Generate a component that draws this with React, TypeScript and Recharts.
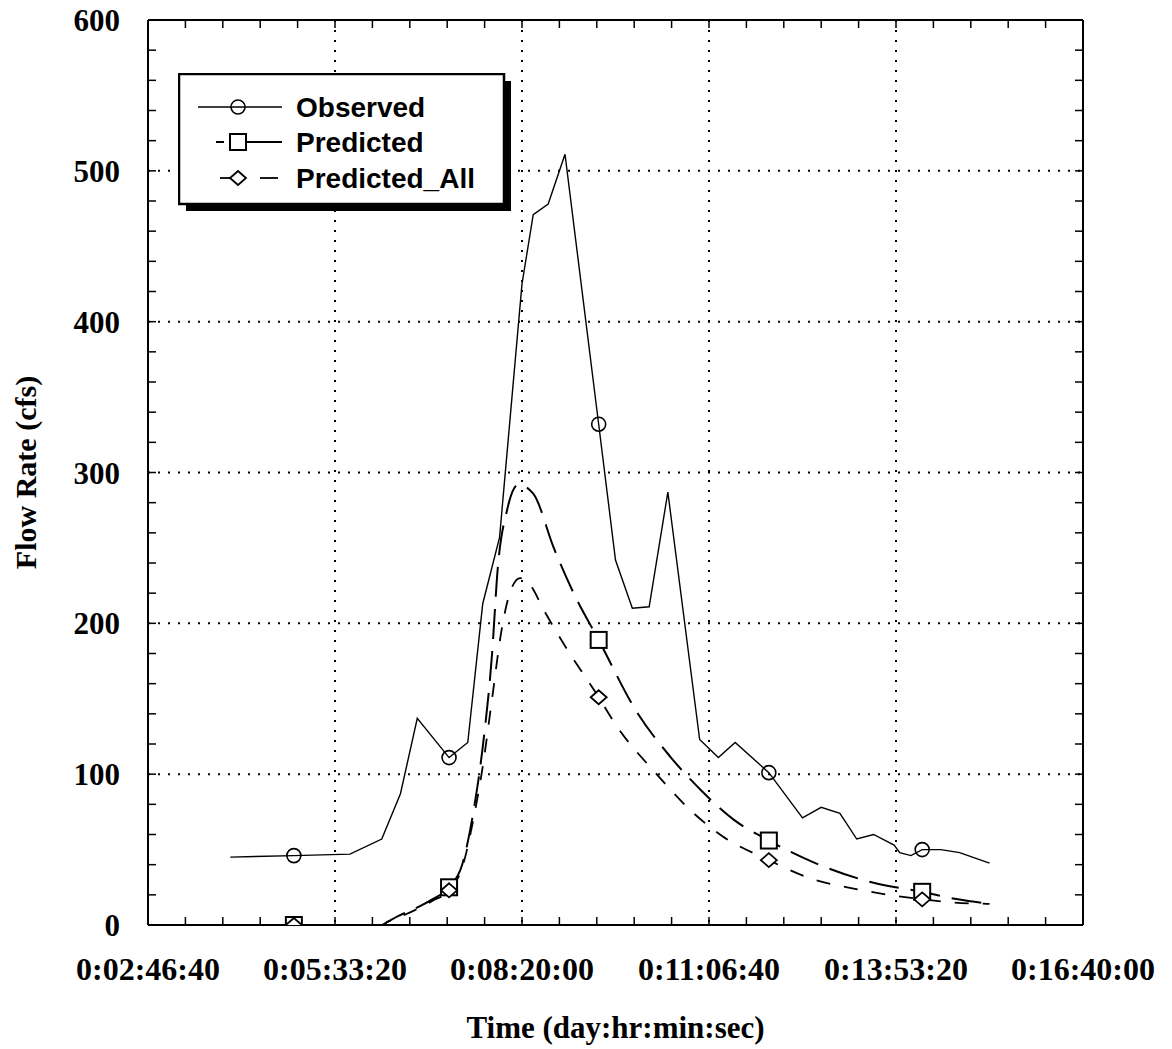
import React from 'react';
import { LineChart, Line, XAxis, YAxis, CartesianGrid, Legend, Label } from 'recharts';

// x values are seconds, shown as day:hr:min:sec
const xTicks = [10000, 20000, 30000, 40000, 50000, 60000];
const yTicks = [0, 100, 200, 300, 400, 500, 600];
const minorX = Array.from({ length: 26 }, (_, i) => 10000 + i * 2000);
const minorY = Array.from({ length: 31 }, (_, i) => i * 20);

// points that carry a symbol
const markerTimes = [17800, 26100, 34100, 43200, 51400];

const obsTime = [14400, 17800, 20800, 22500, 23500, 24400, 26100, 27100, 27900, 28800, 30000, 30600, 31400, 32300, 34100, 35000, 35900, 36800, 37800, 39500, 40500, 41400, 43200, 45000, 46000, 47000, 47900, 48800, 49900, 50200, 50800, 51400, 52400, 53400, 55000];
const obsFlow = [45, 46, 47, 57, 87, 137, 111, 121, 213, 257, 425, 471, 478, 511, 332, 242, 210, 211, 287, 123, 111, 121, 101, 71, 78, 74, 57, 60, 53, 48, 46, 50, 50, 48, 41];

const predTime = [17800, 22500, 22800, 23400, 24300, 25200, 26100, 26800, 27400, 27900, 28400, 28700, 29200, 29800, 30600, 31700, 32800, 34100, 36100, 37900, 39600, 41300, 43200, 45500, 48800, 51400, 53300, 55000];
const predFlow = [0, 0, 2, 6, 11, 17, 25, 40, 75, 118, 180, 236, 275, 292, 286, 250, 219, 189, 142, 112, 89, 70, 56, 42, 28, 22, 17, 14];

const allTime = [17800, 22500, 22800, 23400, 24300, 25200, 26100, 26800, 27400, 27900, 28400, 28900, 29400, 29900, 30400, 31200, 32300, 34100, 35000, 37200, 39100, 40700, 43200, 45400, 47800, 51400, 53000, 55000];
const allFlow = [0, 0, 2, 5, 10, 16, 23, 38, 70, 105, 150, 195, 222, 230, 226, 208, 185, 151, 133, 100, 75, 59, 43, 31, 24, 17, 15, 14];

const toRows = (time: number[], flow: number[]) => time.map((t, i) => ({ t, y: flow[i] }));

const series = [
  { key: 'obs', name: 'Observed', rows: toRows(obsTime, obsFlow), shape: 'circle', dash: undefined, width: 1.4, curve: 'linear' },
  { key: 'pred', name: 'Predicted', rows: toRows(predTime, predFlow), shape: 'square', dash: '30 12', width: 2, curve: 'monotone' },
  { key: 'all', name: 'Predicted_All', rows: toRows(allTime, allFlow), shape: 'diamond', dash: '14 14', width: 1.8, curve: 'monotone' },
];

const serif = '"Times New Roman", "Liberation Serif", serif';
const sans = 'Arial, "Liberation Sans", sans-serif';

const pad = (n: number) => String(n).padStart(2, '0');
const fmtTime = (s: number) => {
  const d = Math.floor(s / 86400);
  const h = Math.floor((s % 86400) / 3600);
  const m = Math.floor((s % 3600) / 60);
  return `${d}:${pad(h)}:${pad(m)}:${pad(s % 60)}`;
};
const noLabel = () => '';

function Marker({ cx, cy, shape }: { cx: number; cy: number; shape: string }) {
  if (shape === 'circle') {
    return <circle cx={cx} cy={cy} r={7} fill="none" stroke="#000" strokeWidth={1.6} />;
  }
  if (shape === 'square') {
    return <rect x={cx - 8} y={cy - 8} width={16} height={16} fill="#fff" stroke="#000" strokeWidth={2} />;
  }
  return (
    <path
      d={`M${cx} ${cy - 7} L${cx + 8} ${cy} L${cx} ${cy + 7} L${cx - 8} ${cy} Z`}
      fill="#fff"
      stroke="#000"
      strokeWidth={1.8}
    />
  );
}

function LegendBox() {
  const rowY = [34, 69, 105];
  return (
    <svg width={345} height={150}>
      <rect x={8} y={8} width={325} height={130} fill="#000" />
      <rect x={1} y={1} width={325} height={130} fill="#fff" stroke="#000" strokeWidth={2.5} />
      {/* Observed */}
      <line x1={20} x2={104} y1={rowY[0]} y2={rowY[0]} stroke="#000" strokeWidth={1.5} />
      <Marker cx={60} cy={rowY[0]} shape="circle" />
      {/* Predicted */}
      <line x1={38} x2={46} y1={rowY[1]} y2={rowY[1]} stroke="#000" strokeWidth={2} />
      <line x1={68} x2={104} y1={rowY[1]} y2={rowY[1]} stroke="#000" strokeWidth={2} />
      <Marker cx={60} cy={rowY[1]} shape="square" />
      {/* Predicted_All */}
      <line x1={42} x2={52} y1={rowY[2]} y2={rowY[2]} stroke="#000" strokeWidth={1.8} />
      <line x1={82} x2={100} y1={rowY[2]} y2={rowY[2]} stroke="#000" strokeWidth={1.8} />
      <Marker cx={60} cy={rowY[2]} shape="diamond" />
      {series.map((s, i) => (
        <text
          key={s.key}
          x={118}
          y={rowY[i]}
          dominantBaseline="central"
          fontFamily={sans}
          fontWeight={700}
          fontSize={28}
          fill="#000"
        >
          {s.name}
        </text>
      ))}
    </svg>
  );
}

const xTickStyle = { fontFamily: serif, fontSize: 32, fontWeight: 700, fill: '#000' };
const yTickStyle = { fontFamily: serif, fontSize: 31, fontWeight: 700, fill: '#000' };
const frame = { stroke: '#000', strokeWidth: 2 };
const minorLine = { stroke: '#000', strokeWidth: 1.5 };

export default function App() {
  return (
    <div style={{ position: 'absolute', left: 0, top: 0, background: '#fff' }}>
      <LineChart width={1172} height={1049} margin={{ top: 20, right: 89, bottom: 0, left: 0 }}>
        <CartesianGrid stroke="#000" strokeWidth={2} strokeDasharray="2 8" />
        <XAxis
          dataKey="t"
          type="number"
          domain={[10000, 60000]}
          allowDataOverflow
          ticks={xTicks}
          interval={0}
          tickFormatter={fmtTime}
          tick={xTickStyle}
          tickSize={0}
          tickMargin={32}
          axisLine={frame}
          height={124}
        >
          <Label
            content={({ viewBox }: any) => (
              <text
                x={viewBox.x + viewBox.width / 2}
                y={1038}
                textAnchor="middle"
                fontFamily={serif}
                fontWeight={700}
                fontSize={31}
                fill="#000"
              >
                Time (day:hr:min:sec)
              </text>
            )}
          />
        </XAxis>
        <XAxis
          xAxisId="minorBottom"
          dataKey="t"
          type="number"
          domain={[10000, 60000]}
          allowDataOverflow
          ticks={minorX}
          interval={0}
          mirror
          height={1}
          tickFormatter={noLabel}
          axisLine={false}
          tickLine={minorLine}
          tickSize={8}
        />
        <XAxis
          xAxisId="top"
          orientation="top"
          dataKey="t"
          type="number"
          domain={[10000, 60000]}
          allowDataOverflow
          ticks={minorX}
          interval={0}
          mirror
          height={1}
          tickFormatter={noLabel}
          axisLine={frame}
          tickLine={minorLine}
          tickSize={8}
        />
        <YAxis
          type="number"
          domain={[0, 600]}
          allowDataOverflow
          ticks={yTicks}
          interval={0}
          tick={yTickStyle}
          tickSize={0}
          tickMargin={28}
          axisLine={frame}
          width={148}
        >
          <Label
            content={({ viewBox }: any) => {
              const cx = 25;
              const cy = viewBox.y + viewBox.height / 2;
              return (
                <text
                  x={cx}
                  y={cy}
                  transform={`rotate(-90, ${cx}, ${cy})`}
                  textAnchor="middle"
                  dominantBaseline="central"
                  fontFamily={serif}
                  fontWeight={700}
                  fontSize={30}
                  fill="#000"
                >
                  Flow Rate (cfs)
                </text>
              );
            }}
          />
        </YAxis>
        <YAxis
          yAxisId="minorLeft"
          type="number"
          domain={[0, 600]}
          allowDataOverflow
          ticks={minorY}
          interval={0}
          mirror
          width={1}
          tickFormatter={noLabel}
          axisLine={false}
          tickLine={minorLine}
          tickSize={8}
        />
        <YAxis
          yAxisId="right"
          orientation="right"
          type="number"
          domain={[0, 600]}
          allowDataOverflow
          ticks={minorY}
          interval={0}
          mirror
          width={1}
          tickFormatter={noLabel}
          axisLine={frame}
          tickLine={minorLine}
          tickSize={8}
        />
        {series.map((s) => (
          <Line
            key={s.key}
            data={s.rows}
            dataKey="y"
            name={s.name}
            type={s.curve as any}
            stroke="#000"
            strokeWidth={s.width}
            strokeDasharray={s.dash}
            isAnimationActive={false}
            activeDot={false}
            dot={(p: any) =>
              markerTimes.includes(p.payload.t) ? (
                <Marker key={`${s.key}-${p.index}`} cx={p.cx} cy={p.cy} shape={s.shape} />
              ) : (
                <g key={`${s.key}-${p.index}`} />
              )
            }
          />
        ))}
        <Legend
          layout="vertical"
          align="center"
          verticalAlign="middle"
          content={() => <LegendBox />}
          wrapperStyle={{ left: 178, top: 73, width: 345, height: 150 }}
        />
      </LineChart>
    </div>
  );
}
